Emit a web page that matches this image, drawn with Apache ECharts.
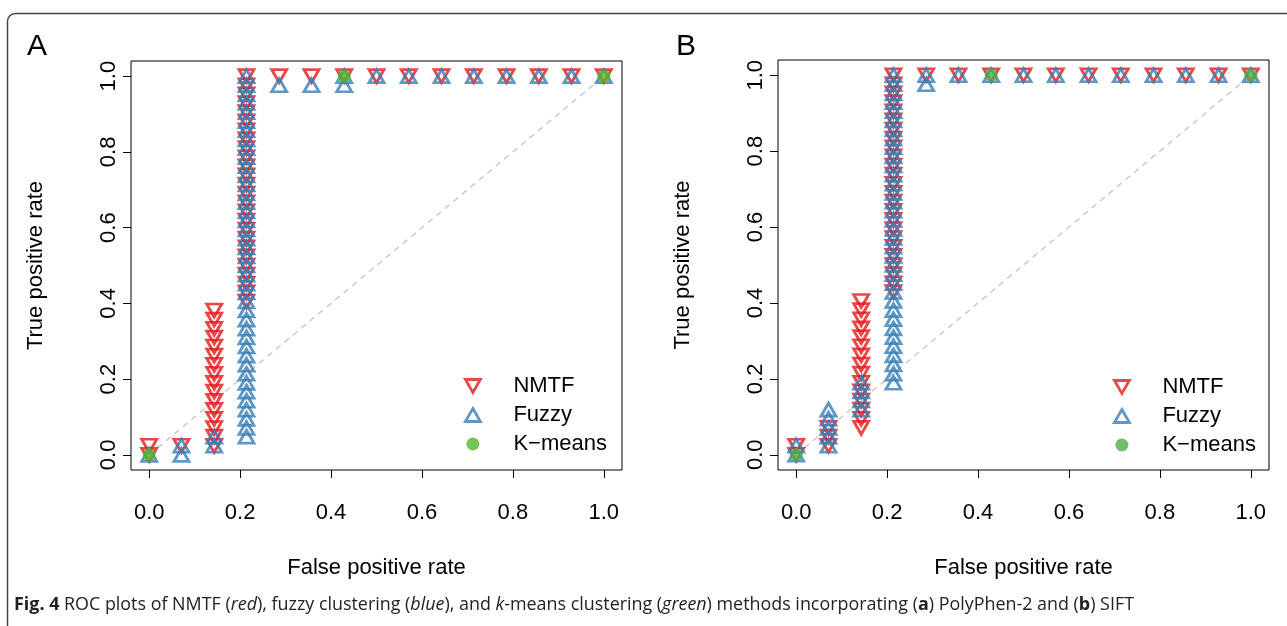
<!DOCTYPE html>
<html>
<head>
<meta charset="utf-8">
<script src="https://cdn.jsdelivr.net/npm/echarts@6/dist/echarts.min.js"></script>
<style>
  html, body { margin: 0; padding: 0; background: #fff; }
  #main { width: 1287px; height: 626px; }
</style>
</head>
<body>
<div id="main"></div>
<script>
// ROC points, grouped per false positive rate: [fpr, [tpr values...]]
var nmtfA = [
  [0, [0, 0.024]],
  [0.071, [0.024]],
  [0.143, [0.024, 0.048, 0.071, 0.095, 0.119, 0.143, 0.167, 0.190, 0.214, 0.238, 0.262, 0.286, 0.310, 0.333, 0.357, 0.381]],
  [0.214, [0.405, 0.429, 0.452, 0.476, 0.500, 0.524, 0.548, 0.571, 0.595, 0.619, 0.643, 0.667, 0.690, 0.714, 0.738, 0.762, 0.786, 0.810, 0.833, 0.857, 0.881, 0.905, 0.929, 0.952, 0.976, 1]],
  [0.286, [1]], [0.357, [1]], [0.429, [1]], [0.5, [1]], [0.571, [1]], [0.643, [1]],
  [0.714, [1]], [0.786, [1]], [0.857, [1]], [0.929, [1]], [1, [1]]
];
var fuzzyA = [
  [0, [0]],
  [0.071, [0, 0.024]],
  [0.143, [0.024, 0.048]],
  [0.214, [0.048, 0.071, 0.095, 0.119, 0.143, 0.167, 0.190, 0.214, 0.238, 0.262, 0.286, 0.310, 0.333, 0.357, 0.381, 0.405, 0.429, 0.452, 0.476, 0.500, 0.524, 0.548, 0.571, 0.595, 0.619, 0.643, 0.667, 0.690, 0.714, 0.738, 0.762, 0.786, 0.810, 0.833, 0.857, 0.881, 0.905, 0.929, 0.952, 0.976, 1]],
  [0.286, [0.976]], [0.357, [0.976]], [0.429, [0.976, 1]], [0.5, [1]], [0.571, [1]], [0.643, [1]],
  [0.714, [1]], [0.786, [1]], [0.857, [1]], [0.929, [1]], [1, [1]]
];
var kmeansA = [[0, [0]], [0.429, [1]], [1, [1]]];

var nmtfB = [
  [0, [0, 0.024]],
  [0.071, [0.024, 0.048, 0.071]],
  [0.143, [0.071, 0.095, 0.119, 0.143, 0.167, 0.190, 0.214, 0.238, 0.262, 0.286, 0.310, 0.333, 0.357, 0.381, 0.405]],
  [0.214, [0.429, 0.452, 0.476, 0.500, 0.524, 0.548, 0.571, 0.595, 0.619, 0.643, 0.667, 0.690, 0.714, 0.738, 0.762, 0.786, 0.810, 0.833, 0.857, 0.881, 0.905, 0.929, 0.952, 0.976, 1]],
  [0.286, [1]], [0.357, [1]], [0.429, [1]], [0.5, [1]], [0.571, [1]], [0.643, [1]],
  [0.714, [1]], [0.786, [1]], [0.857, [1]], [0.929, [1]], [1, [1]]
];
var fuzzyB = [
  [0, [0, 0.024]],
  [0.071, [0.024, 0.048, 0.071, 0.095, 0.119]],
  [0.143, [0.119, 0.143, 0.167, 0.190]],
  [0.214, [0.190, 0.214, 0.238, 0.262, 0.286, 0.310, 0.333, 0.357, 0.381, 0.405, 0.429, 0.452, 0.476, 0.500, 0.524, 0.548, 0.571, 0.595, 0.619, 0.643, 0.667, 0.690, 0.714, 0.738, 0.762, 0.786, 0.810, 0.833, 0.857, 0.881, 0.905, 0.929, 0.952, 0.976, 1]],
  [0.286, [0.976, 1]], [0.357, [1]], [0.429, [1]], [0.5, [1]], [0.571, [1]], [0.643, [1]],
  [0.714, [1]], [0.786, [1]], [0.857, [1]], [0.929, [1]], [1, [1]]
];
var kmeansB = [[0, [0]], [0.429, [1]], [1, [1]]];

var diagonal = [[0, 0], [1, 1]];
var ticks = [0, 0.2, 0.4, 0.6, 0.8, 1.0];

var RED = '#e41a1c', BLUE = '#377eb8', GREEN_A = '#52b52a', GREEN_B = '#4daf4a';
var DOWN = 'path://M0,0L20,0L10,17.3Z';
var FONT = 'Liberation Sans';

function pts(cols) {
  var out = [];
  cols.forEach(function (c) {
    c[1].forEach(function (y) { out.push([c[0], y]); });
  });
  return out;
}

var myChart = echarts.init(document.getElementById('main'));

function axisX(idx) {
  return {
    type: 'value', gridIndex: idx, min: -0.04, max: 1.04,
    name: 'False positive rate', nameLocation: 'middle', nameGap: 87,
    nameTextStyle: { fontFamily: FONT, fontSize: 22, color: '#000' },
    axisLine: { show: false, onZero: false },
    splitLine: { show: false },
    axisTick: { show: true, inside: false, length: 8, customValues: ticks, lineStyle: { color: '#000', width: 1 } },
    axisLabel: { customValues: ticks, margin: 32, fontFamily: FONT, fontSize: 22, color: '#000',
      formatter: function (v) { return v.toFixed(1); } }
  };
}
function axisY(idx) {
  return {
    type: 'value', gridIndex: idx, min: -0.04, max: 1.04,
    name: 'True positive rate', nameLocation: 'middle', nameGap: 84, nameRotate: 90,
    nameTextStyle: { fontFamily: FONT, fontSize: 22, color: '#000' },
    axisLine: { show: false, onZero: false },
    splitLine: { show: false },
    axisTick: { show: true, inside: false, length: 8, customValues: ticks, lineStyle: { color: '#000', width: 1 } },
    axisLabel: { customValues: ticks, margin: 11, rotate: 90, fontFamily: FONT, fontSize: 22, color: '#000',
      formatter: function (v) { return v.toFixed(1); } }
  };
}

function panelSeries(idx, nmtf, fuzzy, kmeans, green) {
  return [
    {
      type: 'line', xAxisIndex: idx, yAxisIndex: idx, data: diagonal, silent: true,
      showSymbol: false, symbol: 'none',
      lineStyle: { color: '#c4c4c4', width: 1.3, type: [6, 5] }, z: 1
    },
    {
      name: 'NMTF', type: 'scatter', xAxisIndex: idx, yAxisIndex: idx, data: pts(nmtf),
      symbol: DOWN, symbolSize: [15, 13], z: 2,
      itemStyle: { color: 'rgba(0,0,0,0)', borderColor: RED, borderWidth: 2.8 }
    },
    {
      name: 'Fuzzy', type: 'scatter', xAxisIndex: idx, yAxisIndex: idx, data: pts(fuzzy),
      symbol: 'triangle', symbolSize: [15, 13], z: 3,
      itemStyle: { color: 'rgba(0,0,0,0)', borderColor: BLUE, borderWidth: 2.8 }
    },
    {
      name: 'K\u2212means', type: 'scatter', xAxisIndex: idx, yAxisIndex: idx, data: pts(kmeans),
      symbol: 'circle', symbolSize: 13, z: 4,
      itemStyle: { color: green }
    }
  ];
}

function legendFor(left, top, green) {
  return {
    orient: 'vertical', left: left, top: top, itemWidth: 15, itemHeight: 13, itemGap: 7,
    selectedMode: false, padding: 0,
    textStyle: { fontFamily: FONT, fontSize: 22, color: '#000', padding: [0, 0, 0, 28] },
    data: [
      { name: 'NMTF', icon: DOWN, itemStyle: { color: 'rgba(0,0,0,0)', borderColor: RED, borderWidth: 2.8 } },
      { name: 'Fuzzy', icon: 'triangle', itemStyle: { color: 'rgba(0,0,0,0)', borderColor: BLUE, borderWidth: 2.8 } },
      { name: 'K\u2212means', icon: 'circle', itemStyle: { color: green, borderWidth: 0 } }
    ]
  };
}

myChart.setOption({
  backgroundColor: '#fff',
  animation: false,
  title: [
    { text: 'A', left: 27, top: 32, padding: 0, textStyle: { fontFamily: FONT, fontSize: 30, fontWeight: 'normal', color: '#000' } },
    { text: 'B', left: 676, top: 32, padding: 0, textStyle: { fontFamily: FONT, fontSize: 30, fontWeight: 'normal', color: '#000' } },
    {
      text: '{b|Fig. 4} ROC plots of NMTF ({i|red}), fuzzy clustering ({i|blue}), and {i|k}-means clustering ({i|green}) methods incorporating ({b|a}) PolyPhen-2 and ({b|b}) SIFT',
      left: 14, top: 596, padding: 0,
      textStyle: {
        fontFamily: 'Open Sans', fontSize: 17.9, fontWeight: 'normal', color: '#222',
        rich: {
          b: { fontFamily: 'Open Sans', fontSize: 17.9, fontWeight: 'bold', color: '#222' },
          i: { fontFamily: 'Open Sans', fontSize: 17.9, fontStyle: 'italic', color: '#222' }
        }
      }
    }
  ],
  graphic: [{
    type: 'rect', left: 5, top: 11, silent: true,
    shape: { width: 1320, height: 700, r: 8 },
    style: { fill: 'none', stroke: '#444', lineWidth: 1.5 }
  }],
  legend: [legendFor(464, 375, GREEN_A), legendFor(1113, 376, GREEN_B)],
  grid: [
    { left: 131, top: 61, width: 491, height: 409, show: true, borderColor: '#000', borderWidth: 1, backgroundColor: 'transparent' },
    { left: 778, top: 60, width: 491, height: 410, show: true, borderColor: '#000', borderWidth: 1, backgroundColor: 'transparent' }
  ],
  xAxis: [axisX(0), axisX(1)],
  yAxis: [axisY(0), axisY(1)],
  series: panelSeries(0, nmtfA, fuzzyA, kmeansA, GREEN_A).concat(panelSeries(1, nmtfB, fuzzyB, kmeansB, GREEN_B))
});

window.addEventListener('resize', function () {
  myChart.resize();
});
</script>
</body>
</html>
